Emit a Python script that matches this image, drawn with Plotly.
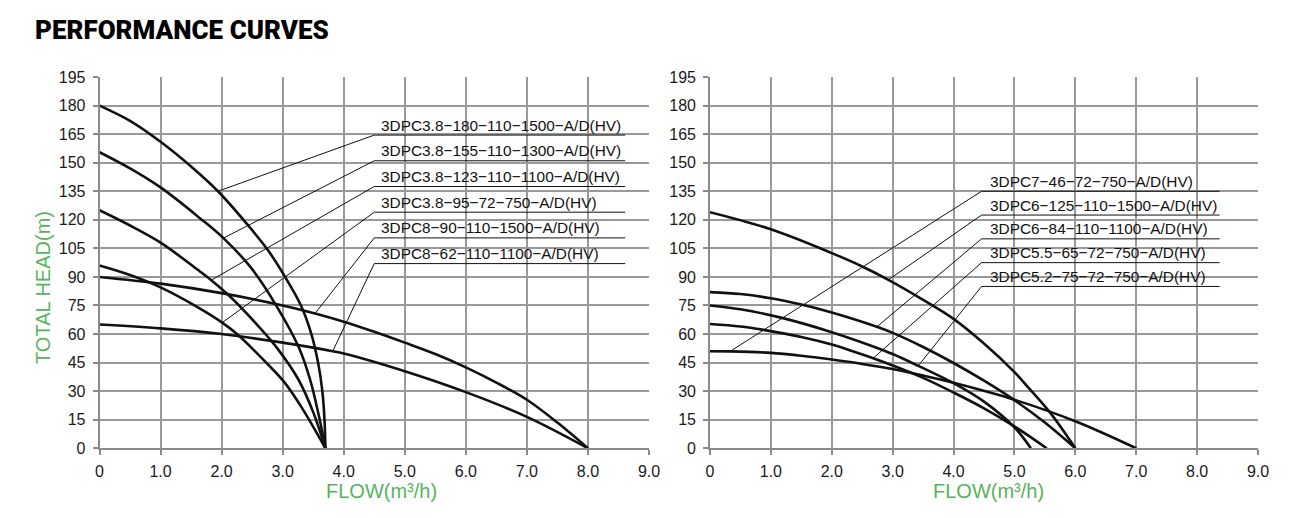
import numpy as np
import plotly.graph_objects as go

# ---------------- data: left panel (flow m3/h, head m) ----------------
flow_l1 = [0, 0.5, 1.0, 1.5, 1.94, 2.41, 2.76, 3.04, 3.3, 3.47, 3.58, 3.65, 3.685, 3.70]
head_l1 = [180, 172, 161, 148, 135, 118, 104, 90, 75, 60, 45, 30, 15, 0]
flow_l2 = [0, 0.5, 1.0, 1.64, 2.03, 2.49, 2.9, 3.26, 3.45, 3.6, 3.70]
head_l2 = [155.5, 147, 137, 121, 110.4, 94.5, 74.7, 53.3, 36, 16, 0]
flow_l3 = [0, 0.5, 1.0, 1.64, 1.83, 2.13, 2.55, 2.9, 3.26, 3.5, 3.70]
head_l3 = [125, 117, 108, 93, 88.3, 80, 66, 53, 36, 19, 0]
flow_l4 = [0, 0.5, 1.0, 1.64, 2.01, 2.27, 2.76, 3.02, 3.3, 3.70]
head_l4 = [96, 91, 84.5, 73.5, 66, 59.5, 44, 35, 22, 0]
flow_l5 = [0, 1, 2, 3, 3.53, 4, 4.5, 5, 5.5, 6, 6.5, 7, 7.5, 8]
head_l5 = [90, 86.5, 81.5, 75, 70.8, 66.5, 61.2, 55.5, 49.5, 42.5, 34.5, 25.5, 13.5, 0]
flow_l6 = [0, 1, 2, 3, 3.82, 4, 5, 6, 7, 8]
head_l6 = [65, 63, 60, 55.5, 51, 49.8, 40.5, 29.5, 16.5, 0]
names_left = ["3DPC3.8−180−110−1500−A/D(HV)", "3DPC3.8−155−110−1300−A/D(HV)",
              "3DPC3.8−123−110−1100−A/D(HV)", "3DPC3.8−95−72−750−A/D(HV)",
              "3DPC8−90−110−1500−A/D(HV)", "3DPC8−62−110−1100−A/D(HV)"]
anchor_flow_left = [1.94, 2.03, 1.83, 2.01, 3.53, 3.82]

# ---------------- data: right panel ----------------
flow_r1 = [0, 0.33, 1, 1.5, 2, 2.5, 3, 3.5, 4, 5, 6, 7]
head_r1 = [51, 50.9, 50.1, 48.6, 46.6, 44.3, 41.6, 38.2, 34.4, 25.5, 14.2, 0]
flow_r2 = [0, 1, 2, 2.5, 2.93, 3.5, 4, 4.5, 5, 5.12, 5.58, 6]
head_r2 = [124, 115, 102.5, 95.5, 88.5, 78, 68, 55, 40, 35.8, 19, 0]
flow_r3 = [0, 0.5, 1, 1.5, 2, 2.74, 3, 3.5, 4, 4.5, 5, 5.5, 6]
head_r3 = [82, 81, 78.8, 75.5, 71.3, 63.8, 60.6, 53.2, 44.8, 35.5, 25.3, 13.5, 0]
flow_r4 = [0, 0.5, 0.88, 1.5, 2, 2.68, 3, 3.5, 4, 4.5, 5, 5.53]
head_r4 = [65.3, 64, 62.2, 58.5, 54.5, 47.3, 43.5, 37, 29.3, 21, 11.5, 0]
flow_r5 = [0, 0.5, 1.18, 2, 2.68, 3, 3.42, 4, 4.5, 5, 5.27]
head_r5 = [75, 73, 68.5, 61, 53.5, 49.5, 43.3, 34.2, 24.5, 11, 0]
names_right = ["3DPC7−46−72−750−A/D(HV)", "3DPC6−125−110−1500−A/D(HV)",
               "3DPC6−84−110−1100−A/D(HV)", "3DPC5.5−65−72−750−A/D(HV)",
               "3DPC5.2−75−72−750−A/D(HV)"]
anchor_flow_right = [0.33, 2.93, 2.74, 2.68, 3.42]

x_ticks = [0, 1, 2, 3, 4, 5, 6, 7, 8, 9]
x_ticktext = ["0", "1.0", "2.0", "3.0", "4.0", "5.0", "6.0", "7.0", "8.0", "9.0"]
y_ticks = list(range(0, 196, 15))

# ---------------- layout constants ----------------
W, H = 1301, 518
label_heads_left = [164.5, 151, 137.5, 124, 110.5, 97]
label_heads_right = [135, 122.5, 110, 97.5, 85]
GREEN = "#56b45a"
GRID = "#999999"
LINE_FONT = "Liberation Sans, Arial, sans-serif"

fig = go.Figure()


def add_panel(curves, anchors, names, label_heads, ul_x0, ul_x1, text_x, xa, ya):
    for q, h in curves:
        fig.add_trace(go.Scatter(x=q, y=h, mode="lines",
                                 line=dict(color="#111111", width=2.6, shape="spline", smoothing=1.0),
                                 xaxis=xa, yaxis=ya, hoverinfo="skip", showlegend=False))
    for (q, h), aq, ly, name in zip(curves, anchors, label_heads, names):
        ah = float(np.interp(aq, q, h))
        fig.add_trace(go.Scatter(x=[aq, ul_x0, ul_x1], y=[ah, ly, ly], mode="lines",
                                 line=dict(color="#111111", width=1),
                                 xaxis=xa, yaxis=ya, hoverinfo="skip", showlegend=False))
        fig.add_annotation(x=text_x, y=ly, xref=xa, yref=ya, text=name, showarrow=False,
                           xanchor="left", yanchor="middle", yshift=10,
                           font=dict(family=LINE_FONT, size=15.4, color="#111111"))


left_curves = [(flow_l1, head_l1), (flow_l2, head_l2), (flow_l3, head_l3),
               (flow_l4, head_l4), (flow_l5, head_l5), (flow_l6, head_l6)]
right_curves = [(flow_r1, head_r1), (flow_r2, head_r2), (flow_r3, head_r3),
                (flow_r4, head_r4), (flow_r5, head_r5)]

add_panel(left_curves, anchor_flow_left, names_left, label_heads_left, 4.5, 8.61, 4.58, "x", "y")
add_panel(right_curves, anchor_flow_right, names_right, label_heads_right, 4.46, 8.37, 4.57, "x2", "y2")

ydom = [(H - 448.3) / H, (H - 77) / H]
common = dict(showgrid=True, gridcolor=GRID, gridwidth=1.6, showline=True, linecolor="#8a8a8a",
              linewidth=1.6, ticks="outside", ticklen=5, tickcolor="#8a8a8a", tickwidth=1.5,
              zeroline=False, automargin=False,
              tickfont=dict(family=LINE_FONT, size=16, color="#1a1a1a"))

fig.update_layout(
    width=W, height=H, autosize=False,
    margin=dict(l=0, r=0, t=0, b=0, pad=0),
    paper_bgcolor="white", plot_bgcolor="white", showlegend=False,
    xaxis=dict(domain=[99.5 / W, 649 / W], range=[0, 9], tickvals=x_ticks, ticktext=x_ticktext,
               anchor="y", ticklabelstandoff=3, **common),
    yaxis=dict(domain=ydom, range=[0, 195], tickvals=y_ticks, anchor="x", ticklabelstandoff=4, **common),
    xaxis2=dict(domain=[710 / W, 1258 / W], range=[0, 9], tickvals=x_ticks, ticktext=x_ticktext,
                anchor="y2", ticklabelstandoff=3, **common),
    yaxis2=dict(domain=ydom, range=[0, 195], tickvals=y_ticks, anchor="x2", ticklabelstandoff=4, **common),
)

# titles
fig.add_annotation(x=33 / W, y=(H - 30) / H, xref="paper", yref="paper", text="PERFORMANCE CURVES",
                   showarrow=False, xanchor="left", yanchor="middle",
                   font=dict(family="Roboto, DejaVu Sans", size=26, color="#000000", weight=900))
fig.add_annotation(x=42.5 / W, y=(H - 287.5) / H, xref="paper", yref="paper", text="TOTAL HEAD(m)",
                   textangle=-90, showarrow=False, xanchor="center", yanchor="middle",
                   font=dict(family=LINE_FONT, size=20, color=GREEN))
for cx in (381, 988):
    fig.add_annotation(x=cx / W, y=(H - 491) / H, xref="paper", yref="paper", text="FLOW(m³/h)",
                       showarrow=False, xanchor="center", yanchor="middle",
                       font=dict(family=LINE_FONT, size=20, color=GREEN))

fig.write_html("out.html", config={"responsive": False, "displayModeBar": False},
               post_script="document.body.style.margin='0';document.body.style.overflow='hidden';"
                           "document.documentElement.style.overflow='hidden';")
